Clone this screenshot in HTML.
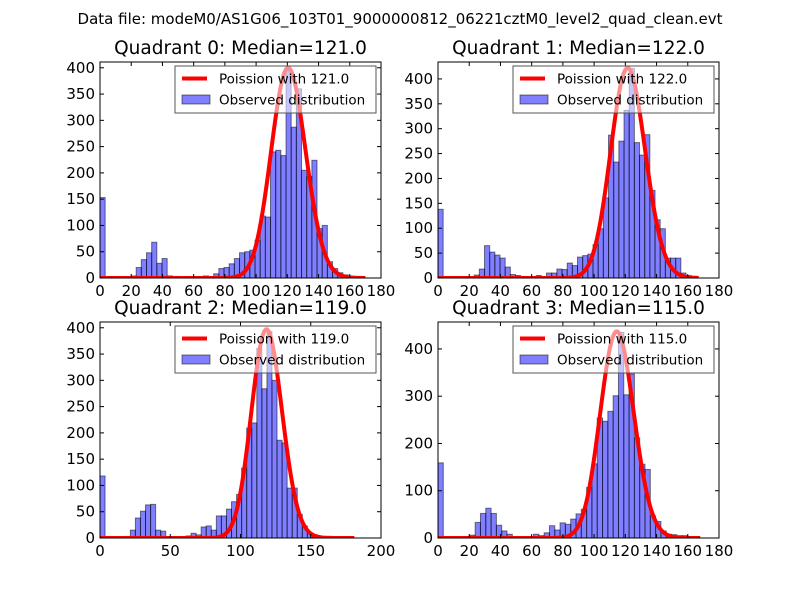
<!DOCTYPE html>
<html><head><meta charset="utf-8"><style>
html,body{margin:0;padding:0;background:#fff;}
svg{display:block;font-family:"DejaVu Sans","Liberation Sans",sans-serif;}
</style></head><body>
<svg id="fig" width="800" height="600" viewBox="0 0 800 600" xmlns="http://www.w3.org/2000/svg">
<rect width="800" height="600" fill="#fff"/>
<text x="400" y="24" font-size="15" text-anchor="middle">Data file: modeM0/AS1G06_103T01_9000000812_06221cztM0_level2_quad_clean.evt</text>
</svg>
<script>
// Histogram counts per bin (index = bin number)
const q0Counts = [153,0,0,0,0,0,4,20,35,48,68,28,37,4,3,0,0,0,0,0,4,0,8,18,20,27,37,48,50,53,72,118,116,240,243,233,395,287,360,205,193,224,94,100,31,18,10,6,3];
const q1Counts = [138,0,0,0,0,0,0,6,18,65,52,46,40,22,7,5,0,0,0,5,0,10,10,18,17,30,25,42,45,48,67,99,161,287,233,275,337,421,272,247,288,176,117,99,40,40,40,10,5];
const q2Counts = [118,0,0,0,0,3,15,38,51,63,64,15,13,0,0,0,0,4,9,6,21,23,15,42,42,55,69,83,133,209,219,361,284,393,300,186,181,95,95,45,23,9,6,0,0,3];
const q3Counts = [159,0,0,0,0,0,6,33,52,63,52,27,15,8,0,0,0,0,8,5,11,26,17,32,29,40,51,61,107,157,254,247,268,301,435,303,347,212,156,145,47,35,15,8,7,5,5];
const binWidths = [3.31, 3.31, 3.6, 3.4];
const medians = [121.0, 122.0, 119.0, 115.0];
const poissonPeaks = [400, 422, 397, 437];
const poissonEnds = [170, 167, 181, 168];
const xMaxes = [180, 180, 200, 180];
const yMaxes = [411, 434, 411, 457];
const xTicks = [[0,20,40,60,80,100,120,140,160,180],[0,20,40,60,80,100,120,140,160,180],[0,50,100,150,200],[0,20,40,60,80,100,120,140,160,180]];
const yTicks = [[0,50,100,150,200,250,300,350,400],[0,50,100,150,200,250,300,350,400],[0,50,100,150,200,250,300,350,400],[0,100,200,300,400]];
const titles = ["Quadrant 0: Median=121.0","Quadrant 1: Median=122.0","Quadrant 2: Median=119.0","Quadrant 3: Median=115.0"];
const allCounts = [q0Counts,q1Counts,q2Counts,q3Counts];

const NS="http://www.w3.org/2000/svg";
const svg=document.getElementById('fig');
const boxes=[{l:100,r:381,t:62,b:278},{l:438,r:719,t:62,b:278},{l:100,r:381,t:322,b:538},{l:438,r:719,t:322,b:538}];
function mk(tag,attrs,parent){const e=document.createElementNS(NS,tag);for(const k in attrs)e.setAttribute(k,attrs[k]);(parent||svg).appendChild(e);return e;}
function lgamma(x){const c=[76.18009172947146,-86.50532032941677,24.01409824083091,-1.231739572450155,0.1208650973866179e-2,-0.5395239384953e-5];let y=x,tmp=x+5.5;tmp-=(x+0.5)*Math.log(tmp);let ser=1.000000000190015;for(let j=0;j<6;j++)ser+=c[j]/++y;return -tmp+Math.log(2.5066282746310005*ser/x);}
function pmf(k,mu){return Math.exp(k*Math.log(mu)-mu-lgamma(k+1));}

for(let q=0;q<4;q++){
  const B=boxes[q];
  const g=mk('g',{});
  
  
  const X=v=>B.l+(v/xMaxes[q])*(B.r-B.l);
  const Y=v=>B.b-(v/yMaxes[q])*(B.b-B.t);
  const bg=mk('clipPath',{id:'clip'+q},g);
  mk('rect',{x:B.l,y:B.t,width:B.r-B.l,height:B.b-B.t},bg);
  const plot=mk('g',{'clip-path':'url(#clip'+q+')'},g);
  const counts=allCounts[q];
  for(let i=0;i<counts.length;i++){
    if(counts[i]<=0)continue;
    const x0=X(i*binWidths[q]),x1=X((i+1)*binWidths[q]);
    const r=mk('rect',{x:x0,y:Y(counts[i]),width:x1-x0,height:Y(0)-Y(counts[i]),fill:'rgba(0,0,255,0.5)',stroke:'rgba(0,0,0,0.5)','stroke-width':1},plot);
    
    
  }
  const mu=medians[q];
  const scale=poissonPeaks[q]/pmf(Math.floor(mu),mu);
  let d='';
  for(let k=0;k<=poissonEnds[q];k++){d+=(k?'L':'M')+X(k).toFixed(2)+','+Y(scale*pmf(k,mu)).toFixed(2);}
  const pl=mk('path',{d:d,fill:'none',stroke:'#ff0000','stroke-width':4,'stroke-linejoin':'round'},plot);
  
  
  const fr=mk('rect',{x:B.l,y:B.t,width:B.r-B.l,height:B.b-B.t,fill:'none',stroke:'#000','stroke-width':1},g);
  
  
  xTicks[q].forEach(v=>{
    const x=X(v);
    mk('line',{x1:x,x2:x,y1:B.b,y2:B.b-4,stroke:'#000'},g);
    mk('line',{x1:x,x2:x,y1:B.t,y2:B.t+4,stroke:'#000'},g);
    const t=mk('text',{x:x,y:B.b+18,'font-size':15,'text-anchor':'middle'},g);
    t.textContent=String(v);
    
    
  });
  yTicks[q].forEach(v=>{
    const y=Y(v);
    mk('line',{x1:B.l,x2:B.l+4,y1:y,y2:y,stroke:'#000'},g);
    mk('line',{x1:B.r,x2:B.r-4,y1:y,y2:y,stroke:'#000'},g);
    const t=mk('text',{x:B.l-5,y:y+5,'font-size':15,'text-anchor':'end'},g);
    t.textContent=String(v);
    
    
  });
  const tt=mk('text',{x:(B.l+B.r)/2,y:B.t-8,'font-size':18.5,'text-anchor':'middle'},g);
  tt.textContent=titles[q];
  
  
  const lg=mk('g',{},g);
  
  
  const lx=B.l+75,ly=B.t+4;
  mk('rect',{x:lx,y:ly,width:201,height:47,fill:'rgba(255,255,255,0.55)',stroke:'#555','stroke-width':1},lg);
  mk('line',{x1:lx+7,x2:lx+32,y1:ly+12.5,y2:ly+12.5,stroke:'#ff0000','stroke-width':4},lg);
  const t1=mk('text',{x:lx+44,y:ly+17.5,'font-size':13.5},lg);
  t1.textContent='Poission with '+mu.toFixed(1);
  
  
  mk('rect',{x:lx+7,y:ly+29,width:28,height:9,fill:'rgba(0,0,255,0.5)',stroke:'rgba(0,0,0,0.5)'},lg);
  const t2=mk('text',{x:lx+44,y:ly+38.5,'font-size':13.5},lg);
  t2.textContent='Observed distribution';
  
  
}
</script>
</body></html>
